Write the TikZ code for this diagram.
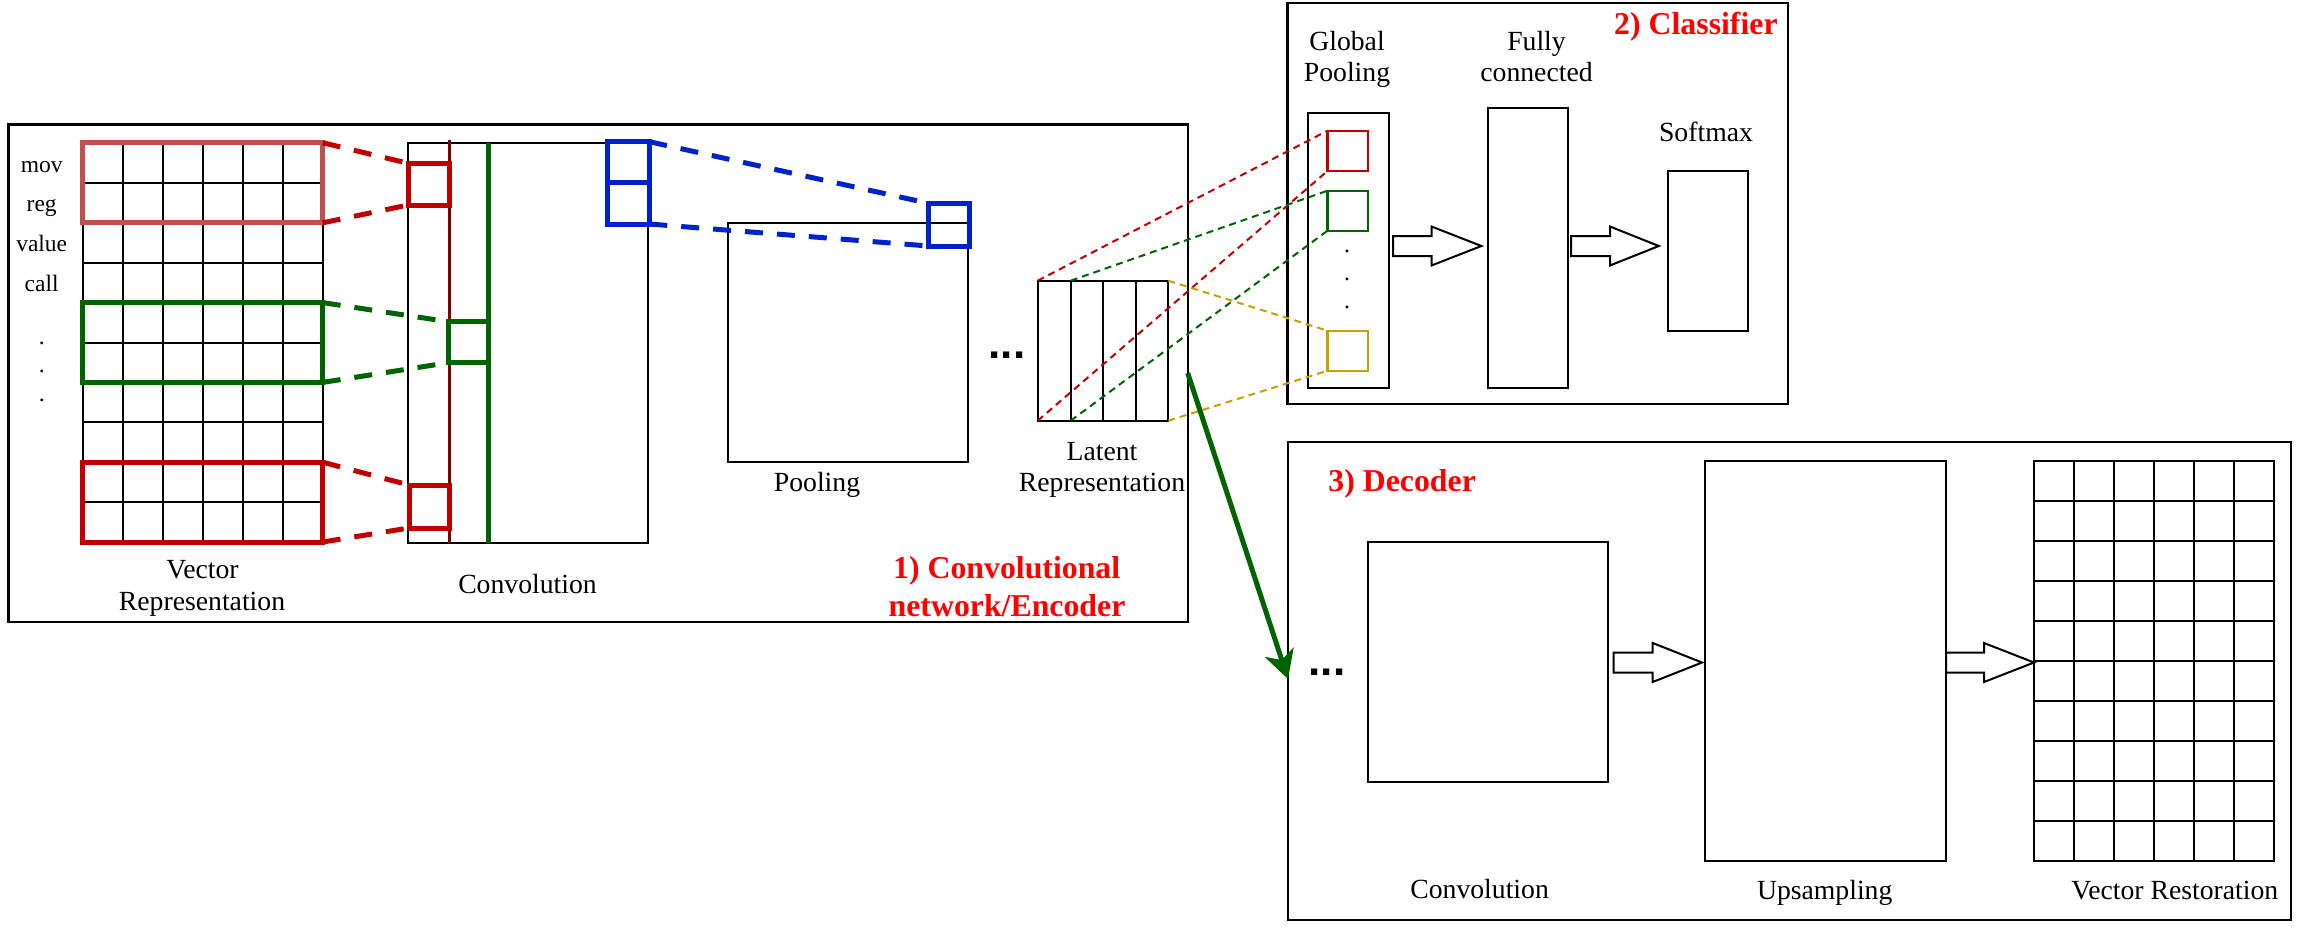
\documentclass[tikz,border=0pt]{standalone}
\usepackage{fontspec}
\setmainfont{Liberation Serif}
\newfontfamily\dotsfont{Liberation Sans}
\usetikzlibrary{arrows.meta}
\definecolor{pinkred}{RGB}{192,80,77}
\definecolor{cred}{RGB}{192,0,0}
\definecolor{cmaroon}{RGB}{128,0,0}
\definecolor{cgreen}{RGB}{0,100,0}
\definecolor{cblue}{RGB}{0,34,204}
\definecolor{cgold}{RGB}{200,160,0}
\newcommand\rnode[6]{%
  \node[#6, inner sep=0pt, outer sep=0pt, minimum width={((#4)-(#2))*0.5pt}, minimum height={((#5)-(#3))*0.5pt}] (#1) at ({((#2)+(#4))/2},{((#3)+(#5))/2}) {};}
\newcommand\blockarrow[4]{%
  \draw[box, fill=white] (#1,{#4-10}) -- (#2,{#4-10}) -- (#2,{#4-19.5}) -- (#3,#4) -- (#2,{#4+19.5}) -- (#2,{#4+10}) -- (#1,{#4+10}) -- cycle;}
\begin{document}
\begin{tikzpicture}[x=0.5pt,y=-0.5pt,
  frame/.style={draw=black, line width=1.2pt},
  box/.style={draw=black, line width=1pt},
  gridline/.style={draw=black, line width=1pt},
  thickc/.style={draw=#1, line width=2.5pt},
  thickdash/.style={draw=#1, line width=2.5pt, dash pattern=on 9pt off 7pt},
  thindash/.style={draw=#1, line width=1pt, dash pattern=on 3.5pt off 2.5pt},
  smallsq/.style={draw=#1, line width=1.1pt},
  lbl/.style={font=\fontsize{13.85}{15.8}\selectfont, inner sep=0pt, anchor=base},
  small/.style={font=\fontsize{11.75}{14}\selectfont, inner sep=0pt, anchor=base},
  title/.style={font=\fontsize{15.9}{19}\selectfont\bfseries, text=red, inner sep=0pt, anchor=base},
  ell/.style={font=\dotsfont\bfseries\fontsize{22}{24}\selectfont, inner sep=0pt, anchor=base},
  garrow/.style={draw=cgreen, line width=2.5pt, -{Stealth[length=14pt,width=15pt,inset=4pt]}}
]
\fill[white] (0,0) rectangle (2317,926);
\useasboundingbox (0,0) rectangle (2317,926);

% ---------- Encoder ----------
\rnode{encoder}{8.5}{124.3}{1187.7}{621.7}{frame}

% input grid
\rnode{vgrid}{82.7}{143}{322.7}{542}{box}
\foreach \i in {1,...,5} \draw[gridline] ({82.7+40*\i},143) -- ({82.7+40*\i},542);
\foreach \j in {1,...,9} \draw[gridline] (82.7,{143+39.9*\j}) -- (322.7,{143+39.9*\j});
\rnode{pinkr}{82.7}{142.7}{322.7}{222.8}{thickc=pinkred}
\rnode{greenr}{82.7}{302.6}{322.7}{382.4}{thickc=cgreen}
\rnode{redr}{82.7}{462.2}{322.7}{542}{thickc=cred}

\node[small] (tmov) at (41.7,172.7) {mov};
\node[small] (treg) at (41.7,211.7) {reg};
\node[small] (tval) at (41.7,251.7) {value};
\node[small] (tcall) at (41.7,291.7) {call};
\node[small] (d1) at (41.7,344) {.};
\node[small] (d2) at (41.7,372.5) {.};
\node[small] (d3) at (41.7,401) {.};

% convolution
\rnode{conv}{408.3}{142.7}{648.3}{543}{box}
\coordinate (mrt) at (449.3,140);
\coordinate (mrb) at (449.3,543);
\draw[draw=cmaroon, line width=1.6pt] (mrt) -- (mrb);
\coordinate (gvt) at (488.3,142.7);
\coordinate (gvb) at (488.3,543);
\draw[draw=cgreen, line width=2.2pt] (gvt) -- (gvb);
\rnode{rsq1}{408.3}{163.3}{449.3}{205}{thickc=cred}
\rnode{gsq}{448.3}{321.7}{488.3}{362.7}{thickc=cgreen}
\rnode{rsq2}{409}{485}{449.3}{528}{thickc=cred}
\rnode{bconv}{607.7}{141.7}{649.3}{224}{thickc=cblue}
\draw[thickc=cblue] (bconv.west) -- (bconv.east);

\draw[thickdash=cred] (pinkr.north east) -- (rsq1.north west);
\draw[thickdash=cred] (pinkr.south east) -- (rsq1.south west);
\draw[thickdash=cgreen] (greenr.north east) -- (gsq.north west);
\draw[thickdash=cgreen] (greenr.south east) -- (gsq.south west);
\draw[thickdash=cred] (redr.north east) -- (rsq2.north west);
\draw[thickdash=cred] (redr.south east) -- (rsq2.south west);

% pooling
\rnode{pool}{728.3}{222.7}{968.3}{462.3}{box}
\rnode{bpool}{928.6}{203.3}{969.6}{246}{thickc=cblue}
\draw[thickdash=cblue] (bconv.north east) -- (bpool.north west);
\draw[thickdash=cblue] (bconv.south east) -- (bpool.south west);

% latent
\node[ell] (ldots) at (1007,358) {...};
\rnode{latent}{1037.7}{280.7}{1168.3}{420.7}{box}
\foreach \x in {1070.7,1103.3,1136} \draw[gridline] (\x,280.7) -- (\x,420.7);
\coordinate (lat2t) at (1070.7,280.7);
\coordinate (lat2b) at (1070.7,420.7);

\node[lbl] (tvec1) at (202.5,578.5) {Vector};
\node[lbl] (tvec2) at (202,610) {Representation};
\node[lbl] (tconv) at (527.5,593.5) {Convolution};
\node[lbl] (tpool) at (817,491.6) {Pooling};
\node[lbl] (tlat1) at (1102,460) {Latent};
\node[lbl] (tlat2) at (1102,491.6) {Representation};
\node[title] (t1a) at (1006.7,578) {1) Convolutional};
\node[title] (t1b) at (1007,616) {network/Encoder};

% ---------- Classifier ----------
\rnode{classifier}{1287.6}{3}{1787.9}{404}{frame}
\rnode{gpool}{1307.5}{112.7}{1388.5}{388.3}{box}
\rnode{gsr}{1327.5}{130.7}{1368.2}{171}{smallsq=cred}
\rnode{gsg}{1327.5}{190.7}{1368.2}{230.7}{smallsq=cgreen}
\rnode{gsy}{1327.5}{330.7}{1368.2}{370.7}{smallsq=cgold}
\node[small] (gd1) at (1347,252) {.};
\node[small] (gd2) at (1347,280) {.};
\node[small] (gd3) at (1347,308) {.};
\rnode{fc}{1487.6}{108.3}{1567.9}{388.3}{box}
\rnode{softmax}{1667.7}{170.7}{1748.3}{330.7}{box}
\blockarrow{1393}{1431.5}{1481.4}{246}
\blockarrow{1571}{1610}{1658.8}{246}
\node[lbl] (tg1) at (1347,50) {Global};
\node[lbl] (tg2) at (1347,81.6) {Pooling};
\node[lbl] (tf1) at (1536.5,50) {Fully};
\node[lbl] (tf2) at (1536.5,81.6) {connected};
\node[lbl] (tsm) at (1706,141.6) {Softmax};
\node[title, anchor=base east] (t2) at (1778,34) {2) Classifier};

\draw[thindash=cred] (latent.north west) -- (gsr.north west);
\draw[thindash=cred] (latent.south west) -- (gsr.south west);
\draw[thindash=cgreen] (lat2t) -- (gsg.north west);
\draw[thindash=cgreen] (lat2b) -- (gsg.south west);
\draw[thindash=cgold] (latent.north east) -- (gsy.north west);
\draw[thindash=cgold] (latent.south east) -- (gsy.south west);

% ---------- Decoder ----------
\rnode{decoder}{1288}{442}{2291}{920}{frame}
\node[title, anchor=base west] (t3) at (1328,491) {3) Decoder};
\node[ell] (ddots) at (1327,675) {...};
\rnode{dconv}{1368}{542}{1608}{782}{box}
\rnode{upsamp}{1705}{461}{1946}{861}{box}
\rnode{rgrid}{2034}{461}{2274}{861}{box}
\foreach \i in {1,...,5} \draw[gridline] ({2034+40*\i},461) -- ({2034+40*\i},861);
\foreach \j in {1,...,9} \draw[gridline] (2034,{461+40*\j}) -- (2274,{461+40*\j});
\blockarrow{1613.6}{1652.7}{1702}{662.5}
\blockarrow{1946}{1984}{2034}{662.5}
\node[lbl] (tdc) at (1479.6,898.5) {Convolution};
\node[lbl] (tup) at (1824.7,899) {Upsampling};
\node[lbl] (tvr) at (2174.8,899) {Vector Restoration};

% green arrow encoder -> decoder
\coordinate (gstart) at (1187.7,373);
\coordinate (gend) at (1288,679);
\draw[garrow] (gstart) -- (gend);
\end{tikzpicture}
\end{document}
